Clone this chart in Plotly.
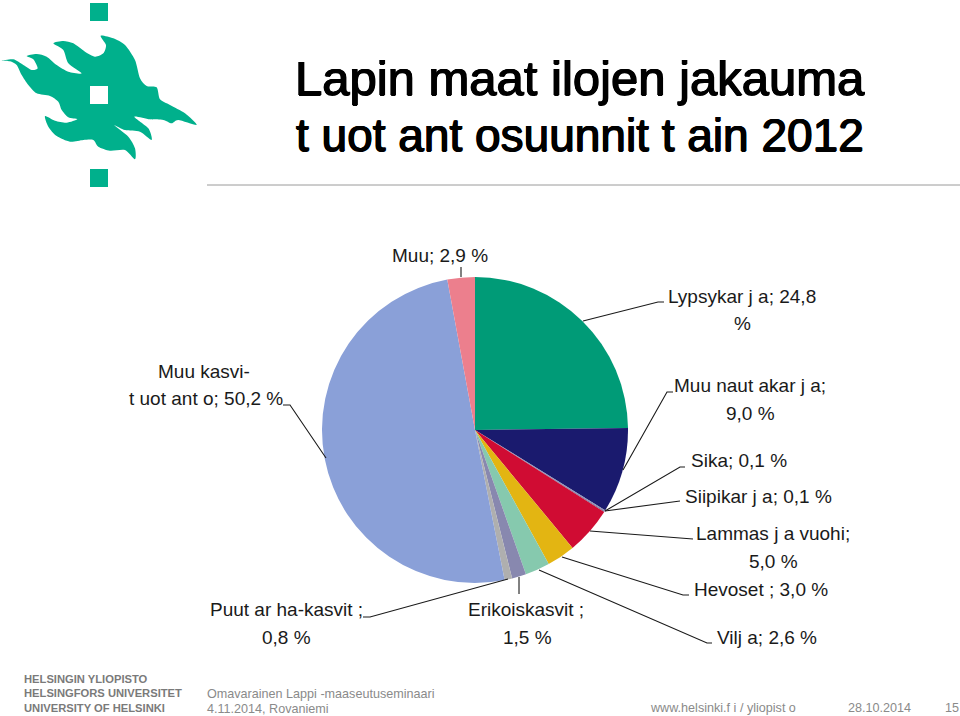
import plotly.graph_objects as go

W = 960
H = 716

# ----------------------------------------
# Data
# ----------------------------------------

categories = [
    "Lypsykarja", "Muu nautakarja", "Sika", "Siipikarja",
    "Lammas ja vuohi", "Hevoset", "Vilja", "Erikoiskasvit",
    "Puutarhakasvit", "Muu kasvituotanto", "Muu",
]
shares = [24.8, 9.0, 0.1, 0.1, 5.0, 3.0, 2.6, 1.5, 0.8, 50.2, 2.9]
slice_colors = [
    "#009B77", "#1A1A6E", "#8A8AB0", "#6E6E9E", "#D00C33", "#E3B512",
    "#86C9AE", "#8888AF", "#AFAFAF", "#8AA0D8", "#EC7F8D",
]

# text, centre x, centre y in pixels
pie_labels = [
    ("Muu; 2,9 %", 439.5, 255),
    ("Lypsykar j a; 24,8", 741.5, 296),
    ("%", 742, 323),
    ("Muu kasvi-", 204, 371),
    ("t uot ant o; 50,2 %", 206, 399),
    ("Muu naut akar j a;", 750, 385),
    ("9,0 %", 750, 413),
    ("Sika; 0,1 %", 739, 461),
    ("Siipikar j a; 0,1 %", 758, 496),
    ("Lammas j a vuohi;", 773, 533),
    ("5,0 %", 773, 561),
    ("Hevoset ; 3,0 %", 761, 589),
    ("Vilj a; 2,6 %", 767, 637),
    ("Erikoiskasvit ;", 526, 609),
    ("1,5 %", 527, 637),
    ("Puut ar ha-kasvit ;", 286, 609),
    ("0,8 %", 286, 637),
]

leaders = [
    [(461, 277), (461, 267)],
    [(583, 321), (658, 302), (664, 302)],
    [(623, 470), (667, 392), (673, 392)],
    [(605, 511), (680, 467), (685, 467)],
    [(605, 511), (680, 501)],
    [(590, 531), (693, 539)],
    [(562, 557), (683, 595), (689, 595)],
    [(539, 570), (707, 643), (712, 643)],
    [(519, 577), (519, 594)],
    [(508, 579), (370, 617), (363, 617)],
    [(326, 458), (290, 405), (283, 405)],
]

# logo outline, traced at 3x zoom
flame = [
    (5, 182), (40, 178), (70, 195), (95, 210), (113, 205), (100, 178), (80, 168),
    (110, 162), (140, 170), (170, 195), (205, 215), (245, 220), (205, 190),
    (190, 150), (160, 130), (190, 123), (220, 130), (255, 155), (285, 170),
    (310, 160), (318, 135), (302, 107), (340, 115), (375, 135), (405, 180),
    (420, 235), (440, 258), (470, 262), (480, 298), (510, 315), (555, 340),
    (590, 375), (535, 360), (515, 370), (490, 360), (450, 358), (403, 350),
    (445, 385), (455, 420), (420, 395), (375, 390), (342, 375), (385, 410),
    (405, 445), (405, 478), (375, 450), (330, 452), (295, 440), (280, 420),
    (250, 420), (210, 425), (170, 408), (145, 380), (135, 348), (165, 362),
    (200, 368), (232, 358), (205, 352), (185, 330), (175, 305), (150, 288),
    (110, 280), (85, 255), (65, 225), (50, 195), (30, 184),
]


# ----------------------------------------
# Helpers
# ----------------------------------------

def px_x(x):
    return x / W


def px_y(y):
    return 1 - y / H


def label(text, x, y, size=19, color="#1A1A1A", anchor="center", weight="normal", shadow="none"):
    # annotations carry 2px of padding on the anchored side
    if anchor == "left":
        x -= 2
    return dict(
        text=text,
        x=px_x(x),
        y=px_y(y),
        xref="paper",
        yref="paper",
        xanchor=anchor,
        yanchor="middle",
        showarrow=False,
        font=dict(family="Liberation Sans", size=size, color=color, weight=weight, shadow=shadow),
    )


def polyline(points, color="#1A1A1A", width=1.1):
    path = "M " + " L ".join(f"{px_x(x):.5f},{px_y(y):.5f}" for x, y in points)
    return dict(
        type="path",
        path=path,
        xref="paper",
        yref="paper",
        line=dict(color=color, width=width),
    )


def smooth_blob(points, color):
    # closed curve through the points
    n = len(points)
    path = f"M {px_x(points[0][0]):.5f},{px_y(points[0][1]):.5f}"
    for i in range(n):
        p0 = points[(i - 1) % n]
        p1 = points[i]
        p2 = points[(i + 1) % n]
        p3 = points[(i + 2) % n]
        c1 = (p1[0] + (p2[0] - p0[0]) / 8, p1[1] + (p2[1] - p0[1]) / 8)
        c2 = (p2[0] - (p3[0] - p1[0]) / 8, p2[1] - (p3[1] - p1[1]) / 8)
        path += (
            f" C {px_x(c1[0]):.5f},{px_y(c1[1]):.5f}"
            f" {px_x(c2[0]):.5f},{px_y(c2[1]):.5f}"
            f" {px_x(p2[0]):.5f},{px_y(p2[1]):.5f}"
        )
    return dict(
        type="path",
        path=path + " Z",
        xref="paper",
        yref="paper",
        line=dict(width=0),
        fillcolor=color,
    )


def square(x0, y0, x1, y1, color):
    return dict(
        type="rect",
        x0=px_x(x0), x1=px_x(x1),
        y0=px_y(y0), y1=px_y(y1),
        xref="paper",
        yref="paper",
        line=dict(width=0),
        fillcolor=color,
    )


# ----------------------------------------
# Figure
# ----------------------------------------

LOGO = "#00B08C"
GRAY = "#8A8A8A"
TITLE_SHADOW = "0.7px 0 0 black, -0.7px 0 0 black, 0 0.5px 0 black, 0 -0.5px 0 black"

fig = go.Figure(
    go.Pie(
        labels=categories,
        values=shares,
        sort=False,
        direction="clockwise",
        rotation=0,
        textinfo="none",
        hoverinfo="skip",
        marker=dict(colors=slice_colors, line=dict(width=0)),
        domain=dict(x=[px_x(322), px_x(628)], y=[px_y(583), px_y(277)]),
    )
)

shapes = [polyline(line) for line in leaders]
shapes.append(polyline([(207, 185), (960, 185)], color="#9A9A9A", width=1))
shapes.append(smooth_blob([(x / 3, y / 3) for x, y in flame], LOGO))
shapes.append(square(90, 3, 108, 21, LOGO))
shapes.append(square(90, 86, 108, 104, "white"))
shapes.append(square(90, 169, 108, 187, LOGO))

annotations = [label(*item) for item in pie_labels]
annotations += [
    label("Lapin maat ilojen jakauma", 295, 78, size=49, color="black", anchor="left", shadow=TITLE_SHADOW),
    label("t uot ant osuunnit t ain 2012", 296, 135, size=46, color="black", anchor="left", shadow=TITLE_SHADOW),
    label("HELSINGIN YLIOPISTO", 24, 679, size=11.2, color="#7A7A7A", anchor="left", weight="bold"),
    label("HELSINGFORS UNIVERSITET", 24, 693, size=11.2, color="#7A7A7A", anchor="left", weight="bold"),
    label("UNIVERSITY OF HELSINKI", 24, 708, size=11.2, color="#7A7A7A", anchor="left", weight="bold"),
    label("Omavarainen Lappi -maaseutuseminaari", 207, 694, size=12.6, color=GRAY, anchor="left"),
    label("4.11.2014, Rovaniemi", 207, 709, size=12.6, color=GRAY, anchor="left"),
    label("www.helsinki.f i / yliopist o", 650, 708, size=12.6, color=GRAY, anchor="left"),
    label("28.10.2014", 848, 708, size=12.6, color=GRAY, anchor="left"),
    label("15", 945, 708, size=12.6, color=GRAY, anchor="left"),
]

fig.update_layout(
    width=W,
    height=H,
    margin=dict(l=0, r=0, t=0, b=0),
    paper_bgcolor="white",
    plot_bgcolor="white",
    showlegend=False,
    shapes=shapes,
    annotations=annotations,
)

fig.write_html(
    "out.html",
    config=dict(displayModeBar=False),
    post_script="document.body.style.margin='0';",
)
